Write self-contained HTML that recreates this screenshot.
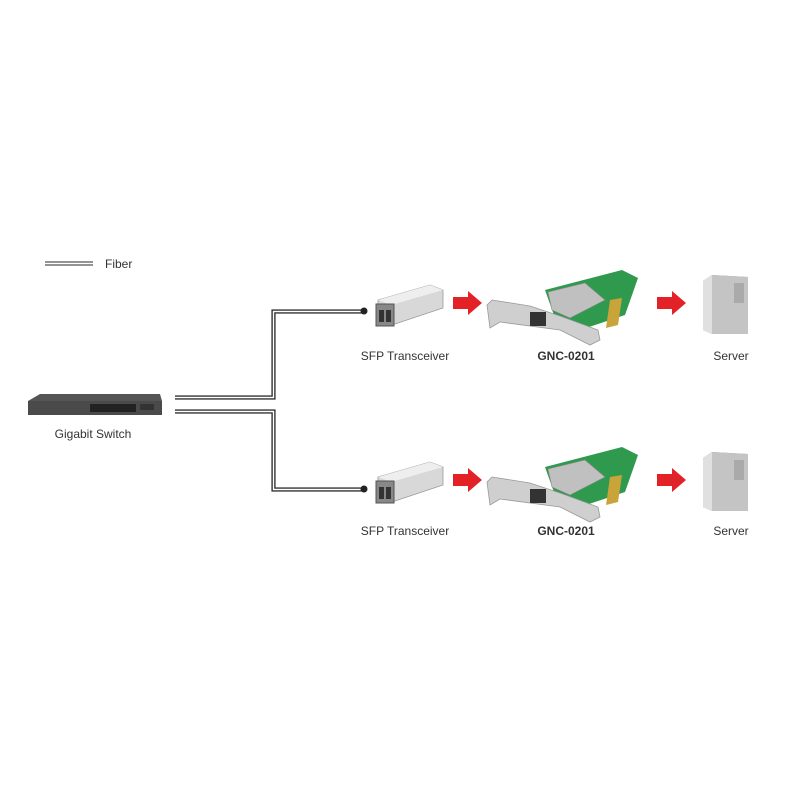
<!DOCTYPE html>
<html><head><style>body{margin:0;background:#fff}svg{display:block}text{font-family:"Liberation Sans",sans-serif;font-size:12px;fill:#333}</style></head><body>
<svg width="800" height="800" viewBox="0 0 800 800">
<defs>
<g id="row">
 <polygon points="378,300 430,285 443,290 443,308 392,325 378,322" fill="#d8d8d8" stroke="#999" stroke-width="0.8"/>
 <polygon points="378,300 430,285 443,290 391,305" fill="#eee"/>
 <rect x="376" y="304" width="18" height="22" fill="#888" stroke="#555"/>
 <rect x="379" y="310" width="5" height="12" fill="#333"/><rect x="386" y="310" width="5" height="12" fill="#333"/>
 <polygon points="453,297 468,297 468,291 482,303 468,315 468,309 453,309" fill="#e32228"/>
 <!-- card -->
 <polygon points="545,290 622,270 638,278 625,315 580,330 555,318" fill="#2f9a4e"/>
 <polygon points="610,300 622,298 618,325 606,328" fill="#c9a43a"/>
 <polygon points="487,305 492,300 530,306 560,316 598,330 600,340 590,345 560,330 500,322 490,328" fill="#cfcfcf" stroke="#999" stroke-width="0.8"/>
 <polygon points="548,292 585,283 605,300 570,318 552,310" fill="#c0c0c0" stroke="#888" stroke-width="0.6"/>
 <rect x="530" y="312" width="16" height="14" fill="#333"/>
 <polygon points="657,297 672,297 672,291 686,303 672,315 672,309 657,309" fill="#e32228"/>
 <polygon points="703,281 712,275 748,277 748,334 712,334 703,330" fill="#8a8a8a"/>
 <polygon points="712,275 748,277 748,334 712,334" fill="#c4c4c4"/>
 <polygon points="703,281 712,275 712,334 703,330" fill="#e0e0e0"/>
 <rect x="734" y="283" width="10" height="20" fill="#aaa"/>
</g>
</defs>
<line x1="45" y1="262" x2="93" y2="262" stroke="#555" stroke-width="1.3"/>
<line x1="45" y1="265" x2="93" y2="265" stroke="#555" stroke-width="1.3"/>
<text x="105" y="268">Fiber</text>
<polygon points="28,401 40,394 160,394 162,401 162,414 28,414" fill="#555"/>
<rect x="28" y="401" width="134" height="14" fill="#4a4a4a"/>
<rect x="90" y="404" width="46" height="8" fill="#222"/>
<rect x="140" y="404" width="14" height="6" fill="#333"/>
<text x="93" y="438" text-anchor="middle">Gigabit Switch</text>
<path d="M175,397.5 H273.5 V311.5 H363" fill="none" stroke="#333" stroke-width="4.2"/>
<path d="M175,397.5 H273.5 V311.5 H363" fill="none" stroke="#fff" stroke-width="1.4"/>
<path d="M175,411.5 H273.5 V489.5 H363" fill="none" stroke="#333" stroke-width="4.2"/>
<path d="M175,411.5 H273.5 V489.5 H363" fill="none" stroke="#fff" stroke-width="1.4"/>
<circle cx="364" cy="311" r="3.5" fill="#222"/>
<circle cx="364" cy="489" r="3.5" fill="#222"/>
<use href="#row"/>
<use href="#row" transform="translate(0,177)"/>
<text x="405" y="360" text-anchor="middle">SFP Transceiver</text>
<text x="566" y="360" text-anchor="middle" style="font-weight:bold">GNC-0201</text>
<text x="731" y="360" text-anchor="middle">Server</text>
<text x="405" y="535" text-anchor="middle">SFP Transceiver</text>
<text x="566" y="535" text-anchor="middle" style="font-weight:bold">GNC-0201</text>
<text x="731" y="535" text-anchor="middle">Server</text>
</svg>
</body></html>
